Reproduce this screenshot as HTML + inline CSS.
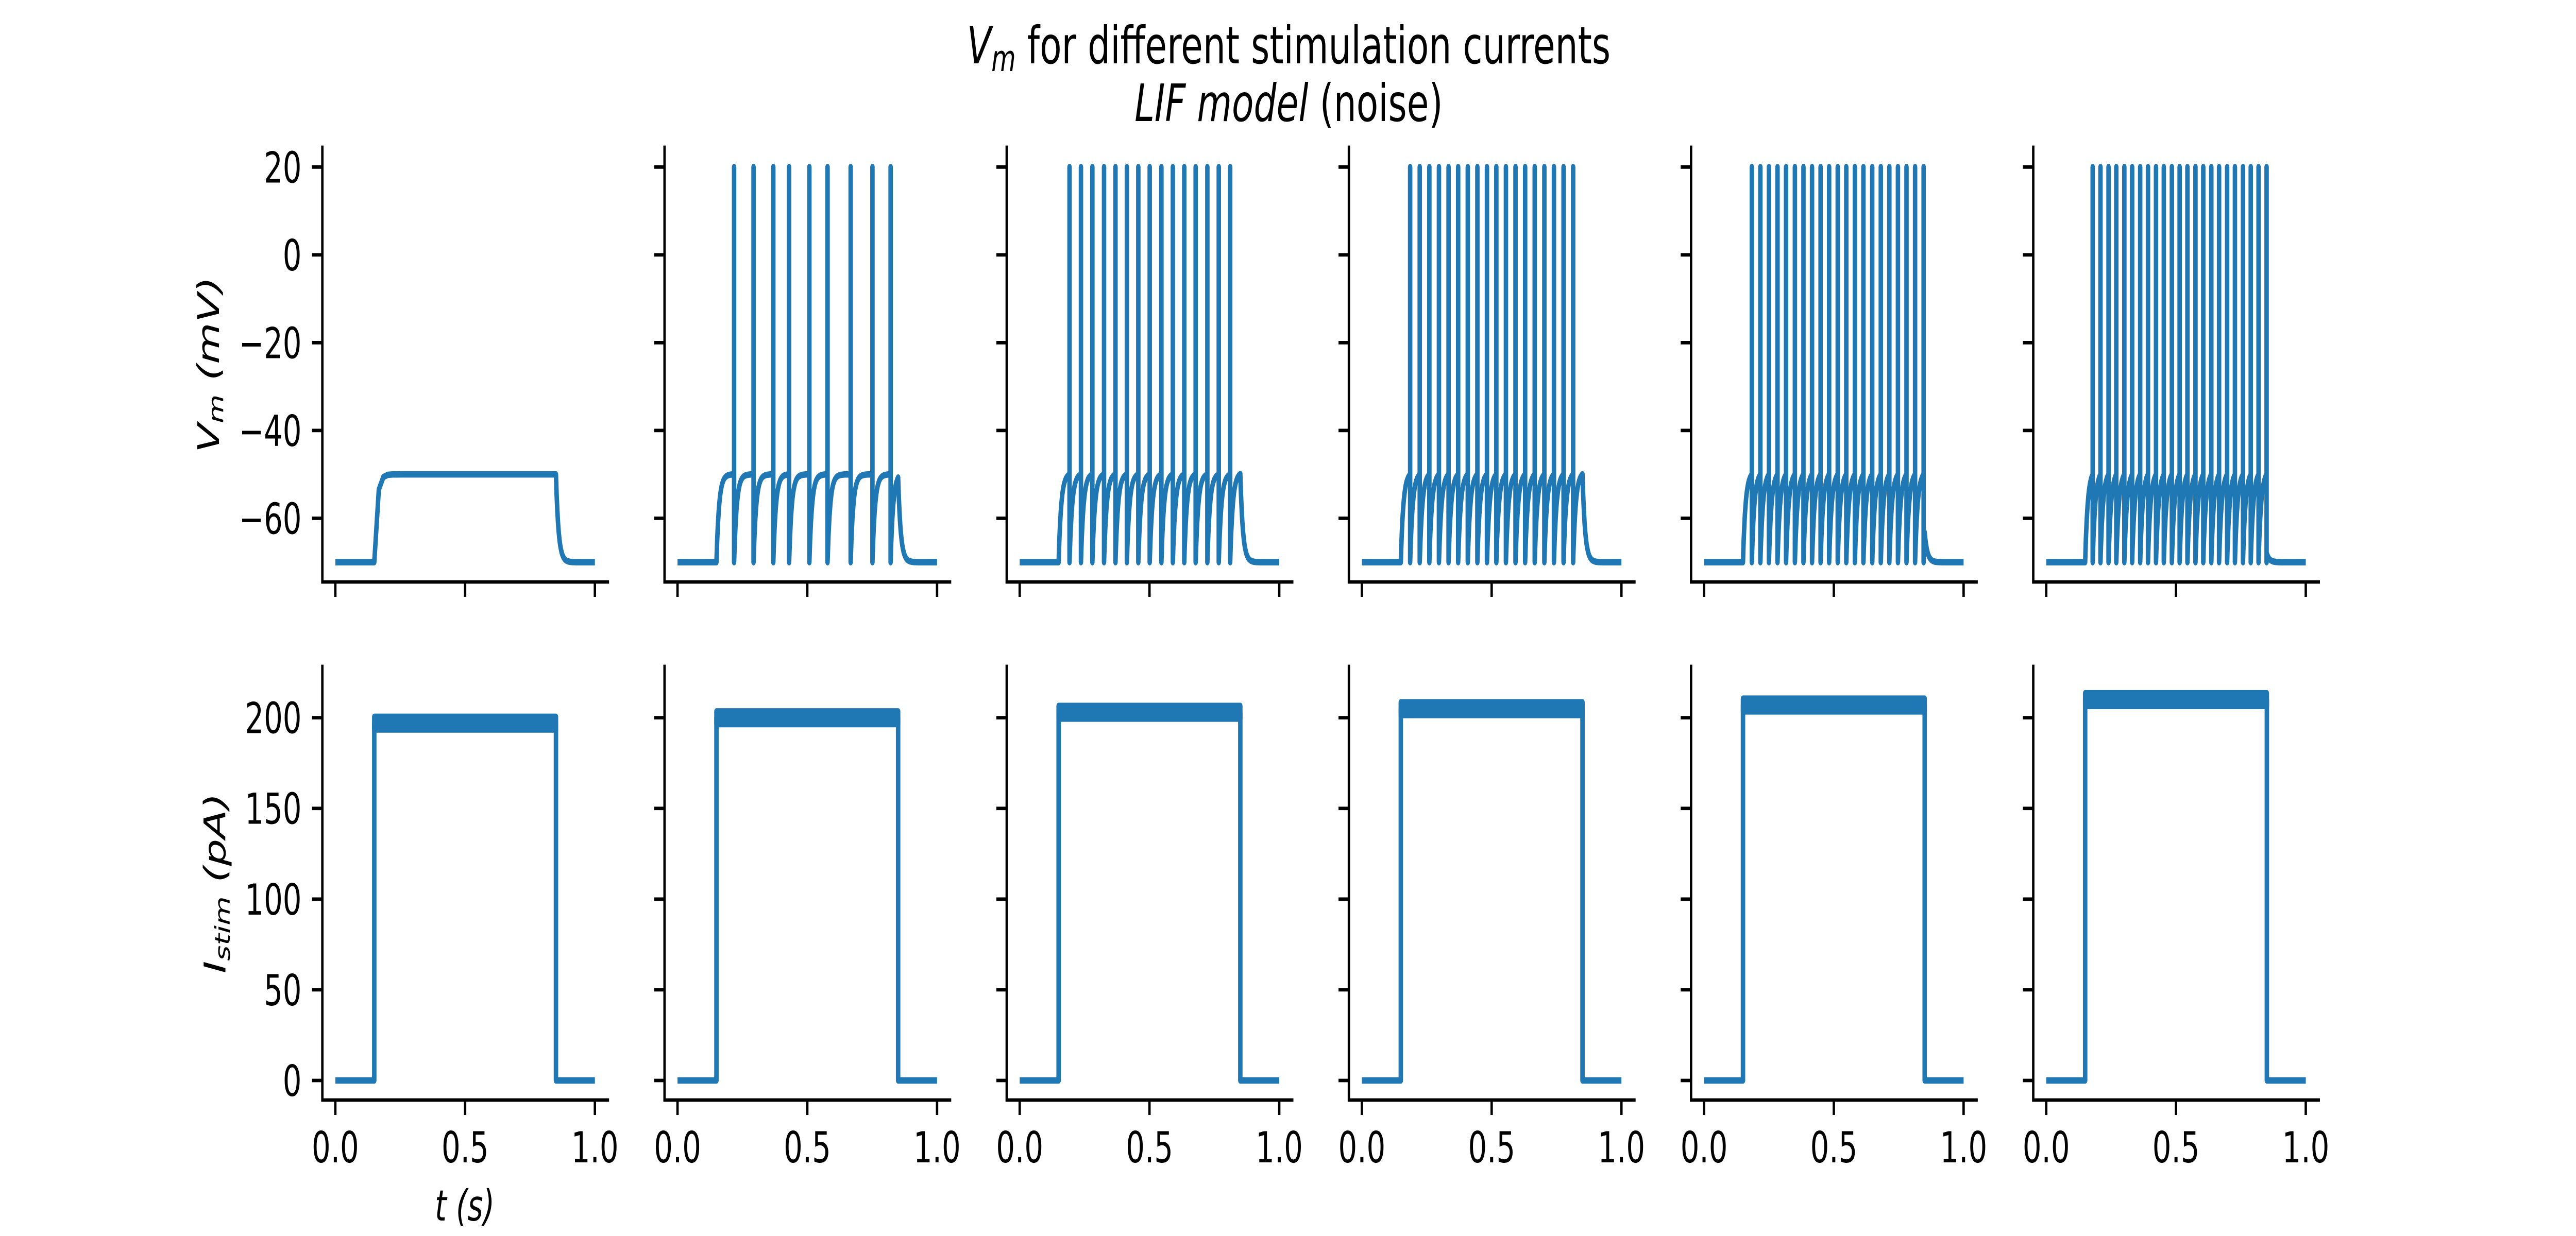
<!DOCTYPE html>
<html><head><meta charset="utf-8"><style>
html,body{margin:0;padding:0;background:#fff;overflow:hidden;width:100vw;height:100vh;}
svg{display:block;width:100vw;height:100vh;font-family:"DejaVu Sans","Liberation Sans",sans-serif;}
</style></head><body>
<svg id="fig" xmlns="http://www.w3.org/2000/svg" viewBox="0 0 7200 2400" preserveAspectRatio="none">
<rect width="7200" height="2400" fill="#fff"/>
<text x="3602" y="123" font-size="100" text-anchor="middle"><tspan font-style="italic">V</tspan><tspan font-style="italic" font-size="70" dy="15">m</tspan><tspan dy="-15"> for different stimulation currents</tspan></text>
<text x="3602" y="235" font-size="100" text-anchor="middle"><tspan font-style="italic">LIF model</tspan> (noise)</text>
<text transform="translate(612,708) rotate(-90)" font-size="83" text-anchor="middle" font-style="italic">V<tspan font-size="58" dy="12">m</tspan><tspan dy="-12"> (mV)</tspan></text>
<text transform="translate(630,1715) rotate(-90)" font-size="83" text-anchor="middle" font-style="italic">I<tspan font-size="58" dy="12">stim</tspan><tspan dy="-12"> (pA)</tspan></text>
<text x="1299" y="2370" font-size="83" text-anchor="middle" font-style="italic">t (s)</text>
<g id="plots"></g>
</svg>
<script>
const currents = [197, 200, 203, 205, 207, 210];
const spikeTimes = [
  [],
  [0.218,0.293,0.369,0.430,0.508,0.578,0.667,0.751,0.821],
  [0.192,0.236,0.280,0.325,0.369,0.413,0.457,0.501,0.546,0.590,0.634,0.678,0.723,0.767,0.811],
  [0.186,0.223,0.260,0.297,0.334,0.371,0.408,0.445,0.482,0.518,0.555,0.592,0.629,0.666,0.703,0.740,0.777,0.814],
  [0.184,0.217,0.250,0.283,0.316,0.350,0.383,0.416,0.449,0.482,0.515,0.548,0.581,0.614,0.648,0.681,0.714,0.747,0.780,0.813,0.846],
  [0.179,0.209,0.240,0.270,0.301,0.331,0.362,0.392,0.423,0.453,0.484,0.514,0.544,0.575,0.605,0.636,0.666,0.697,0.727,0.758,0.788,0.818,0.849]
];
const plateauV = [-50, -49.6, -49.5, -49.4, -49.3, -49.2];
const stimOn = 0.15, stimOff = 0.85;
const vmTicks = [20, 0, -20, -40, -60];
const vmTickLabels = ["20", "0", "\u221220", "\u221240", "\u221260"];
const iTicks = [0, 50, 100, 150, 200];
const iTickLabels = ["0", "50", "100", "150", "200"];
const tTicks = [0, 0.5, 1.0];
const tTickLabels = ["0.0", "0.5", "1.0"];

const NS = "http://www.w3.org/2000/svg";
const plots = document.getElementById('plots');
const C = "#1f77b4";
const X0 = 901, PW = 798, DX = 956.4;
const TOP = {y0: 286, y1: 1130, lo: -74.5, hi: 24.5};
const BOT = {y0: 1294, y1: 2136, lo: -10.8, hi: 228.3};
const VR = -70, VTH = -50, VPK = 20, TAU = 0.01;

function mk(tag, attrs, parent) {
  const e = document.createElementNS(NS, tag);
  for (const k in attrs) e.setAttribute(k, attrs[k]);
  parent.appendChild(e);
  return e;
}
function xs(i, t) { return X0 + i * DX + PW * (t + 0.05) / 1.1; }
function ys(ax, v) { return ax.y1 - (v - ax.lo) / (ax.hi - ax.lo) * (ax.y1 - ax.y0); }

function axes(i, ax, ticks, labels, showY, showX, g) {
  const x0 = X0 + i * DX;
  const sp = mk('path', {d: `M${x0},${ax.y0} L${x0},${ax.y1} L${x0 + PW},${ax.y1}`, fill: 'none', stroke: '#000', 'stroke-width': 6.7, 'stroke-linecap': 'square'}, g);
  
  
  ticks.forEach((v, k) => {
    const y = ys(ax, v);
    const tk = mk('line', {x1: x0 - 29, x2: x0, y1: y, y2: y, stroke: '#000', 'stroke-width': 6.7}, g);
    
    
    if (showY) {
      const tl = mk('text', {x: x0 - 58, y: y + 30, 'font-size': 83, 'text-anchor': 'end'}, g);
      tl.textContent = labels[k];
      
      
    }
  });
  tTicks.forEach((t, k) => {
    const x = xs(i, t);
    const tk = mk('line', {x1: x, x2: x, y1: ax.y1, y2: ax.y1 + 29, stroke: '#000', 'stroke-width': 6.7}, g);
    
    
    if (showX) {
      const tl = mk('text', {x: x, y: ax.y1 + 121, 'font-size': 83, 'text-anchor': 'middle'}, g);
      tl.textContent = tTickLabels[k];
      
      
    }
  });
}

for (let i = 0; i < 6; i++) {
  const g = mk('g', {}, plots);
  
  
  axes(i, TOP, vmTicks, vmTickLabels, i === 0, false, g);
  axes(i, BOT, iTicks, iTickLabels, i === 0, true, g);

  const pts = [];
  const P = (t, v) => pts.push(xs(i, t).toFixed(1) + ',' + ys(TOP, v).toFixed(1));
  P(0, VR); P(stimOn, VR);
  let t0 = stimOn, v0 = VR;
  const st = spikeTimes[i];
  for (let k = 0; k < st.length; k++) {
    const T = st[k] - t0;
    const e = Math.exp(-T / TAU);
    const vinf = (VTH - VR * e) / (1 - e);
    const n = 24;
    for (let j = 1; j <= n; j++) {
      const dt = T * j / n;
      P(t0 + dt, vinf - (vinf - VR) * Math.exp(-dt / TAU));
    }
    P(st[k], VPK); P(st[k], VR);
    t0 = st[k]; v0 = VR;
  }
  const vinf = plateauV[i];
  let vEnd = v0;
  if (t0 < stimOff) {
    const T = stimOff - t0, n = 40;
    for (let j = 1; j <= n; j++) {
      const dt = T * j / n;
      vEnd = vinf - (vinf - v0) * Math.exp(-dt / TAU);
      P(t0 + dt, vEnd);
    }
  }
  for (let j = 1; j <= 30; j++) {
    const dt = 0.08 * j / 30;
    P(stimOff + dt, VR + (vEnd - VR) * Math.exp(-dt / TAU));
  }
  P(1.0, VR);
  const vm = mk('polyline', {points: pts.join(' '), fill: 'none', stroke: C, 'stroke-width': 12.5, 'stroke-linejoin': 'round'}, g);
  
  

  const I = currents[i];
  const d = `M${xs(i,0)},${ys(BOT,0)} L${xs(i,stimOn)},${ys(BOT,0)} L${xs(i,stimOn)},${ys(BOT,I)} L${xs(i,stimOff)},${ys(BOT,I)} L${xs(i,stimOff)},${ys(BOT,0)} L${xs(i,1)},${ys(BOT,0)}`;
  const cur = mk('path', {d: d, fill: 'none', stroke: C, 'stroke-width': 12.5, 'stroke-linejoin': 'round'}, g);
  
  
  const band = mk('rect', {x: xs(i, stimOn), y: ys(BOT, I + 3.5), width: xs(i, stimOff) - xs(i, stimOn), height: ys(BOT, I - 3.5) - ys(BOT, I + 3.5), fill: C, stroke: C, 'stroke-width': 12.5, 'stroke-linejoin': 'round'}, g);
  
  
}
</script>
</body></html>
